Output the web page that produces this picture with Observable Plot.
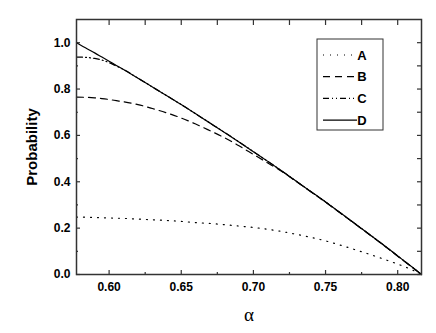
<!DOCTYPE html>
<html><head><meta charset="utf-8">
<script src="https://cdn.jsdelivr.net/npm/d3@7"></script>
<script src="https://cdn.jsdelivr.net/npm/@observablehq/plot@0.6"></script>
<style>
body{margin:0;background:#fff}
#chart svg{display:block}
g[aria-label="x-axis label"] text{font-family:"Liberation Serif","DejaVu Serif",serif;font-size:19px;font-weight:normal}
g[aria-label="y-axis label"] text{font-size:15px}
</style></head><body><div id="chart"></div>
<script>
const alpha = [0.5774, 0.585, 0.59, 0.595, 0.60, 0.605, 0.61, 0.62, 0.63, 0.64, 0.65, 0.66, 0.67, 0.68, 0.69, 0.70, 0.71, 0.72, 0.73, 0.74, 0.75, 0.76, 0.77, 0.78, 0.79, 0.80, 0.81, 0.8165];
const seriesA = [0.248, 0.247, 0.246, 0.245, 0.244, 0.243, 0.242, 0.239, 0.236, 0.233, 0.229, 0.224, 0.220, 0.215, 0.209, 0.203, 0.195, 0.185, 0.173, 0.160, 0.145, 0.127, 0.108, 0.088, 0.067, 0.045, 0.020, 0.000];
const seriesB = [0.765, 0.764, 0.762, 0.759, 0.755, 0.750, 0.745, 0.733, 0.716, 0.697, 0.675, 0.649, 0.620, 0.590, 0.555, 0.518, 0.481, 0.443, 0.400, 0.356, 0.312, 0.266, 0.220, 0.174, 0.127, 0.079, 0.031, 0.000];
const seriesC = [0.938, 0.936, 0.932, 0.925, 0.914, 0.899, 0.884, 0.847, 0.809, 0.771, 0.733, 0.693, 0.653, 0.613, 0.572, 0.530, 0.488, 0.445, 0.401, 0.357, 0.313, 0.267, 0.221, 0.175, 0.128, 0.080, 0.032, 0.000];
const seriesD = [1.000, 0.973, 0.956, 0.938, 0.920, 0.902, 0.884, 0.847, 0.809, 0.771, 0.733, 0.693, 0.653, 0.613, 0.572, 0.530, 0.488, 0.445, 0.401, 0.357, 0.313, 0.267, 0.221, 0.175, 0.128, 0.080, 0.032, 0.000];
const seriesNames = ["A", "B", "C", "D"];
const seriesDash = ["1,6", "7,5", "6,3,1,3,1,3", null];
const xTickLabels = [0.60, 0.65, 0.70, 0.75, 0.80];
const xMinorTicks = [0.625, 0.675, 0.725, 0.775];
const yTickLabels = [0.0, 0.2, 0.4, 0.6, 0.8, 1.0];
const yMinorTicks = [0.1, 0.3, 0.5, 0.7, 0.9];

const allSeries = [seriesA, seriesB, seriesC, seriesD];
const data = seriesNames.flatMap((s, i) => alpha.map((a, j) => ({alpha: a, p: allSeries[i][j], s})));
const xAll = xTickLabels.concat(xMinorTicks);
const yAll = yTickLabels.concat(yMinorTicks);

const lineMarks = seriesNames.map((s, i) => Plot.line(data.filter(d => d.s === s), {
  x: "alpha", y: "p", stroke: "#000", strokeWidth: 1.2, curve: "monotone-x",
  strokeDasharray: seriesDash[i] || undefined
}));

const tickStyle = {fill: "none", stroke: "#333", strokeWidth: 1.2};
const chart = Plot.plot({
  width: 436, height: 333,
  marginLeft: 76, marginRight: 15, marginTop: 19, marginBottom: 59,
  x: {domain: [0.5774, 0.8165]},
  y: {domain: [0, 1.1]},
  style: {fontFamily: "'Liberation Sans', Arial, sans-serif", fontSize: "12px", fontWeight: "bold", color: "#000", background: "#fff", overflow: "visible"},
  marks: [
    Plot.axisX(xTickLabels, {tickSize: 0, tickPadding: 8, tickFormat: ".2f", label: "α", labelArrow: "none", labelAnchor: "center", labelOffset: 46}),
    Plot.axisX(xTickLabels, {tickSize: 4, dy: -4, ...tickStyle}),
    Plot.axisX(xMinorTicks, {tickSize: 2, dy: -2, ...tickStyle}),
    Plot.axisX(xAll, {anchor: "top", tickSize: 5, dy: 5, ...tickStyle}),
    Plot.axisY(yTickLabels, {tickSize: 0, tickPadding: 6, tickFormat: ".1f", label: "Probability", labelArrow: "none", labelAnchor: "center", labelOffset: 50}),
    Plot.axisY(yTickLabels, {tickSize: 4, dx: 4, ...tickStyle}),
    Plot.axisY(yMinorTicks, {tickSize: 2, dx: 2, ...tickStyle}),
    Plot.axisY(yAll, {anchor: "right", tickSize: 5, dx: -5, ...tickStyle}),
    ...lineMarks,
    Plot.frame({stroke: "#333", strokeWidth: 1.5})
  ]
});
document.getElementById("chart").appendChild(chart);

// legend box inside the plot area
const svg = d3.select(chart);
const lg = svg.append("g").attr("transform", "translate(317,39)");
lg.append("rect").attr("width", 66).attr("height", 91).attr("fill", "#fff").attr("stroke", "#333").attr("stroke-width", 1);
seriesNames.forEach((s, i) => {
  const y = 16 + i * 21.7;
  lg.append("line").attr("x1", 6).attr("x2", 40).attr("y1", y).attr("y2", y)
    .attr("stroke", "#000").attr("stroke-width", 1.2)
    .attr("stroke-dasharray", seriesDash[i]);
  lg.append("text").attr("x", 45).attr("y", y).attr("dy", "0.36em")
    .attr("font-family", "'Liberation Sans', Arial, sans-serif").attr("font-size", 13).attr("font-weight", "bold")
    .text(s);
});
</script></body></html>
